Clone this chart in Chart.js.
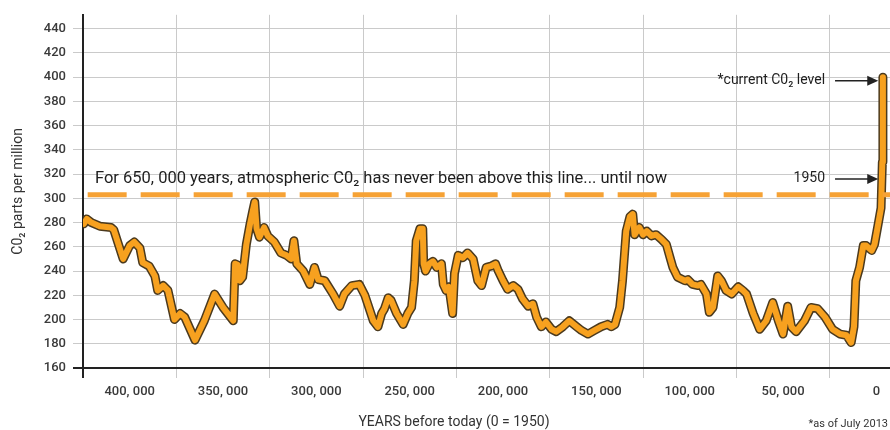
<!DOCTYPE html>
<html>
<head>
<meta charset="utf-8">
<script src="https://cdn.jsdelivr.net/npm/chart.js@4.4.1/dist/chart.umd.min.js"></script>
<style>
  html, body { margin: 0; padding: 0; background: #fff; }
  canvas { display: block; }
</style>
</head>
<body>
<canvas id="co2Chart" width="890" height="430"></canvas>
<script>
// years before today (0 = 1950) and CO2 in ppm
const years = [
  424500, 423000, 420500, 416000, 410000, 408500, 403500, 400000, 397500, 394500,
  393000, 389500, 386500, 385000, 382000, 379500, 376000, 373000, 370500, 365000,
  360000, 354500, 350000, 344500, 343500, 342000, 341000, 339500, 337500, 335500,
  334000, 333000, 332000, 330500, 328000, 326000, 322500, 319000, 316000, 313500,
  312000, 310500, 307000, 303500, 301000, 299000, 295500, 291000, 287500, 285000,
  281000, 277000, 274000, 269500, 267000, 265000, 263500, 261500, 260000, 257000,
  253500, 251000, 249000, 247500, 246500, 244500, 243000, 242500, 241500, 239500,
  237500, 235500, 233000, 232000, 230500, 229000, 227000, 226000, 224000, 221500,
  219000, 216000, 213500, 211500, 209000, 206500, 204000, 202500, 200000, 197500,
  194500, 192000, 189500, 186500, 184000, 182000, 179500, 177000, 174000, 171500,
  168000, 164500, 160500, 158000, 154500, 151000, 147500, 144000, 142000, 140000,
  137500, 136000, 134000, 132000, 130500, 129500, 127000, 125000, 123000, 120500,
  118000, 115000, 112500, 110500, 109000, 106500, 102500, 101000, 98500, 95500,
  94000, 91000, 89500, 87500, 85000, 83000, 80500, 77500, 74000, 71500,
  69500, 66000, 62500, 59000, 55500, 52500, 50000, 47500, 45500, 43000,
  38500, 35000, 31500, 27500, 23500, 19500, 16000, 13500, 12000, 11000,
  9000, 7000, 5500, 2500, 1000, -1000, -2500, -3200, -3500
];
const co2 = [
  279, 283, 280, 277, 276, 274, 250, 261, 264, 259,
  247, 244, 236, 224, 228, 224, 200, 205, 202, 183,
  199, 221, 210, 199, 246, 245, 232, 235, 262, 279,
  290, 297, 275, 268, 276, 269, 264, 255, 253, 250,
  265, 246, 240, 229, 243, 233, 232, 221, 211, 221,
  228, 229, 220, 199, 194, 205, 209, 218, 216, 205,
  196, 205, 210, 232, 265, 275, 275, 246, 240, 246,
  248, 243, 246, 229, 224, 227, 205, 238, 253, 251,
  255, 250, 232, 228, 243, 244, 246, 240, 232, 225,
  228, 225, 217, 211, 213, 202, 194, 198, 192, 190,
  194, 199, 194, 191, 188, 191, 194, 196, 194, 196,
  210, 232, 273, 285, 287, 270, 276, 270, 273, 269,
  270, 266, 262, 251, 243, 235, 232, 233, 229, 228,
  229, 221, 206, 210, 236, 232, 224, 221, 227, 224,
  221, 205, 192, 199, 214, 199, 188, 211, 194, 190,
  199, 210, 209, 202, 192, 188, 187, 181, 194, 232,
  243, 261, 261, 257, 262, 279, 292, 330, 400
];

// the "never been above this line" level
const limitYears = [422500, -7300];
const limitLevel = 303;

// axis ticks
const labelYears = [400000, 350000, 300000, 250000, 200000, 150000, 100000, 50000, 0];
const gridYears = [425000, 375000, 325000, 275000, 225000, 175000, 125000, 75000, 25000];
const ppmTicks = [160, 180, 200, 220, 240, 260, 280, 300, 320, 340, 360, 380, 400, 420, 440];

const FONT = 'Roboto, "Open Sans", sans-serif';
const ORANGE = '#f7a11f';
const DARK = '#4b3a1e';

const points = years.map((yr, i) => ({ x: yr, y: co2[i] }));
const limitPoints = limitYears.map(yr => ({ x: yr, y: limitLevel }));

function fmtYear(v) {
  if (v === 0) return '0';
  const k = Math.floor(v / 1000);
  return k + ', ' + String(v % 1000).padStart(3, '0');
}

function arrow(ctx, x1, x2, yy) {
  ctx.beginPath();
  ctx.moveTo(x1, yy);
  ctx.lineTo(x2 - 8, yy);
  ctx.lineWidth = 1.5;
  ctx.strokeStyle = '#222';
  ctx.stroke();
  ctx.beginPath();
  ctx.moveTo(x2, yy);
  ctx.lineTo(x2 - 11, yy - 5);
  ctx.lineTo(x2 - 11, yy + 5);
  ctx.closePath();
  ctx.fillStyle = '#222';
  ctx.fill();
}

const notes = {
  id: 'notes',
  afterDraw(chart) {
    const { ctx, chartArea: area, scales: { x, y } } = chart;
    ctx.save();
    ctx.textBaseline = 'middle';
    ctx.fillStyle = '#1e1e1e';

    // caption above the dashed line
    ctx.font = '16.5px ' + FONT;
    ctx.textAlign = 'left';
    ctx.fillText('For 650, 000 years, atmospheric C0₂ has never been above this line... until now',
      area.left + 12, y.getPixelForValue(316));

    // right side labels with arrows
    ctx.font = '14px ' + FONT;
    ctx.textAlign = 'right';
    const labelRight = x.getPixelForValue(27500);
    const tipX = x.getPixelForValue(-1000);
    const yCur = y.getPixelForValue(397);
    const y1950 = y.getPixelForValue(316);
    ctx.fillText('*current C0₂ level', labelRight, yCur);
    ctx.fillText('1950', labelRight, y1950);
    arrow(ctx, labelRight + 10, tipX, yCur);
    arrow(ctx, labelRight + 10, tipX, y1950);

    // bottom texts
    ctx.fillStyle = '#333';
    ctx.font = '14px ' + FONT;
    ctx.textAlign = 'center';
    ctx.fillText('YEARS before today (0 = 1950)', 454, chart.height - 8);
    ctx.font = '11px ' + FONT;
    ctx.textAlign = 'right';
    ctx.fillText('*as of July 2013', chart.width - 2, chart.height - 6);
    ctx.restore();
  }
};

new Chart(document.getElementById('co2Chart'), {
  type: 'line',
  data: {
    datasets: [
      {
        label: 'limit',
        data: limitPoints,
        borderColor: '#f6a235',
        borderWidth: 5,
        borderDash: [39, 14],
        pointRadius: 0,
        order: 0
      },
      {
        label: 'CO2',
        data: points,
        borderColor: ORANGE,
        borderWidth: 6,
        borderJoinStyle: 'round',
        borderCapStyle: 'round',
        pointRadius: 0,
        tension: 0,
        order: 1
      },
      {
        label: 'CO2 outline',
        data: points,
        borderColor: DARK,
        borderWidth: 9,
        borderJoinStyle: 'round',
        borderCapStyle: 'round',
        pointRadius: 0,
        tension: 0,
        order: 2
      }
    ]
  },
  options: {
    responsive: false,
    animation: false,
    layout: { padding: { top: 13, left: 0, right: 0, bottom: 0 } },
    plugins: {
      legend: { display: false },
      tooltip: { enabled: false }
    },
    scales: {
      x: {
        type: 'linear',
        reverse: true,
        min: -7300,
        max: 425000,
        afterBuildTicks: s => {
          s.ticks = gridYears.concat(labelYears).map(v => ({ value: v }));
        },
        afterFit: s => { s.height = 62; },
        grid: {
          color: c => c.tick && c.tick.value === 425000 ? '#222'
            : (c.tick && gridYears.includes(c.tick.value) ? '#cacaca' : 'rgba(0,0,0,0)'),
          lineWidth: c => c.tick && c.tick.value === 425000 ? 2 : 1,
          tickLength: 10
        },
        border: { color: '#222', width: 2 },
        ticks: {
          autoSkip: false,
          maxRotation: 0,
          padding: 6,
          color: '#3a3a3a',
          font: { family: FONT, size: 13, weight: '500' },
          callback: v => labelYears.includes(v) ? fmtYear(v) : ''
        }
      },
      y: {
        min: 160,
        max: 451.5,
        afterBuildTicks: s => {
          s.ticks = ppmTicks.map(v => ({ value: v }));
        },
        afterFit: s => { s.width = 83; },
        grid: {
          color: c => c.tick && c.tick.value === 160 ? '#222' : '#cacaca',
          lineWidth: c => c.tick && c.tick.value === 160 ? 2 : 1,
          tickLength: 10
        },
        border: { color: '#222', width: 2 },
        ticks: {
          padding: 7,
          color: '#3a3a3a',
          font: { family: FONT, size: 13, weight: '500' }
        },
        title: {
          display: true,
          text: 'C0₂ parts per million',
          color: '#333',
          font: { family: FONT, size: 14 },
          padding: { top: 10, bottom: 0 }
        }
      }
    }
  },
  plugins: [notes]
});
</script>
</body>
</html>
